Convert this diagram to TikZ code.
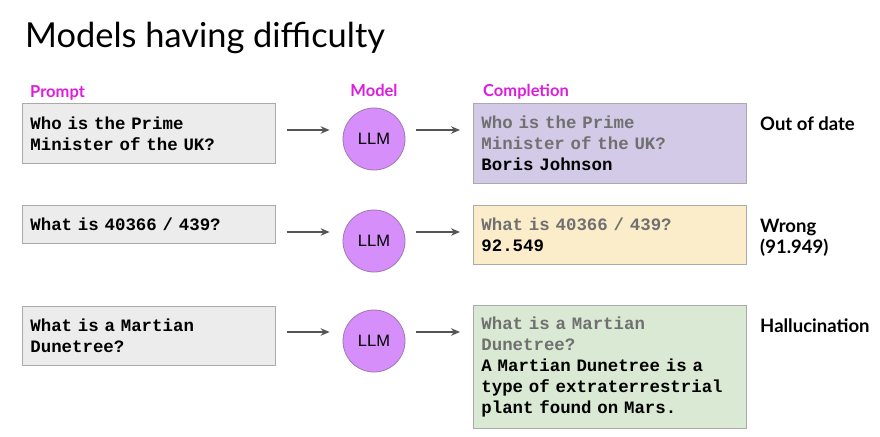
\documentclass[tikz,border=0pt]{standalone}
\usepackage{fontspec}
\usepackage{xcolor}
\usetikzlibrary{arrows.meta}
\setmainfont{Lato}
\newfontfamily\codefont{Liberation Mono}
\newfontfamily\llmfont{Liberation Sans}

\definecolor{tagpink}{RGB}{222,28,222}
\definecolor{boxline}{RGB}{170,170,170}
\definecolor{promptfill}{RGB}{236,236,236}
\definecolor{oldfill}{RGB}{210,202,230}
\definecolor{wrongfill}{RGB}{252,237,202}
\definecolor{hallfill}{RGB}{218,233,211}
\definecolor{llmfill}{RGB}{214,142,250}
\definecolor{llmline}{RGB}{160,120,175}
\definecolor{arrowgray}{RGB}{85,85,85}
\definecolor{asked}{RGB}{112,112,112}

\newcommand{\code}{\codefont\bfseries\fontsize{17.4}{21}\selectfont}

\begin{document}
\begin{tikzpicture}[x=1pt, y=-1pt,
    prompt/.style={draw=boxline, fill=promptfill, line width=0.8pt, anchor=north west,
        align=left, text width=237pt, inner xsep=8pt, inner ysep=0pt, font=\code},
    completion/.style={prompt, text width=257pt},
    llm/.style={circle, draw=llmline, fill=llmfill, line width=0.8pt, minimum size=62pt,
        inner sep=0pt, font=\llmfont\fontsize{16.5}{16.5}\selectfont},
    tag/.style={text=tagpink, font=\bfseries\fontsize{16.5}{16.5}\selectfont, inner sep=0pt},
    verdict/.style={anchor=base west, align=left, inner sep=0pt,
        font=\bfseries\fontsize{18.5}{21}\selectfont},
    arr/.style={-{Stealth[length=9pt,width=7.5pt]}, line width=1.3pt, draw=arrowgray,
        shorten <=11pt, shorten >=13pt}]
    \useasboundingbox (0,0) rectangle (880,436);

    \node[anchor=base west, inner sep=0pt, font=\fontsize{34.4}{34.4}\selectfont] (title) at (25,48) {Models having difficulty};

    % column headers
    \node[tag, anchor=base west] (hPrompt) at (30,97) {Prompt};
    \node[tag, anchor=base] (hModel) at (374,96) {Model};
    \node[tag, anchor=base west] (hCompl) at (483,96) {Completion};

    % prompts
    \node[prompt, minimum height=60pt] (p1) at (22,103) {Who is the Prime\\Minister of the UK?};
    \node[prompt, minimum height=38pt] (p2) at (22,205) {What is 40366 / 439?};
    \node[prompt, minimum height=59pt] (p3) at (22,306) {What is a Martian\\Dunetree?};

    % models
    \node[llm] (m1) at (374,139) {LLM};
    \node[llm] (m2) at (374,241) {LLM};
    \node[llm] (m3) at (374,341) {LLM};

    % completions
    \node[completion, fill=oldfill, minimum height=80pt] (c1) at (473,103)
        {\textcolor{asked}{Who is the Prime}\\\textcolor{asked}{Minister of the UK?}\\Boris Johnson};
    \node[completion, fill=wrongfill, minimum height=59pt] (c2) at (473,205)
        {\textcolor{asked}{What is 40366 / 439?}\\92.549};
    \node[completion, fill=hallfill, minimum height=123pt] (c3) at (473,305)
        {\textcolor{asked}{What is a Martian}\\\textcolor{asked}{Dunetree?}\\A Martian Dunetree is a\\type of extraterrestrial\\plant found on Mars.};

    % verdicts
    \node[verdict] (v1) at (760,130) {Out of date};
    \node[verdict] (v2) at (760,253) {Wrong\\(91.949)};
    \node[verdict] (v3) at (760,332) {Hallucination};

    % arrows
    \coordinate (r1) at (0,130);
    \coordinate (r2) at (0,232);
    \coordinate (r3) at (0,332);
    \draw[arr] (p1.east |- r1) -- (m1.west |- r1);
    \draw[arr] (p2.east |- r2) -- (m2.west |- r2);
    \draw[arr] (p3.east |- r3) -- (m3.west |- r3);
    \draw[arr] (m1.east |- r1) -- (c1.west |- r1);
    \draw[arr] (m2.east |- r2) -- (c2.west |- r2);
    \draw[arr] (m3.east |- r3) -- (c3.west |- r3);
\end{tikzpicture}
\end{document}
